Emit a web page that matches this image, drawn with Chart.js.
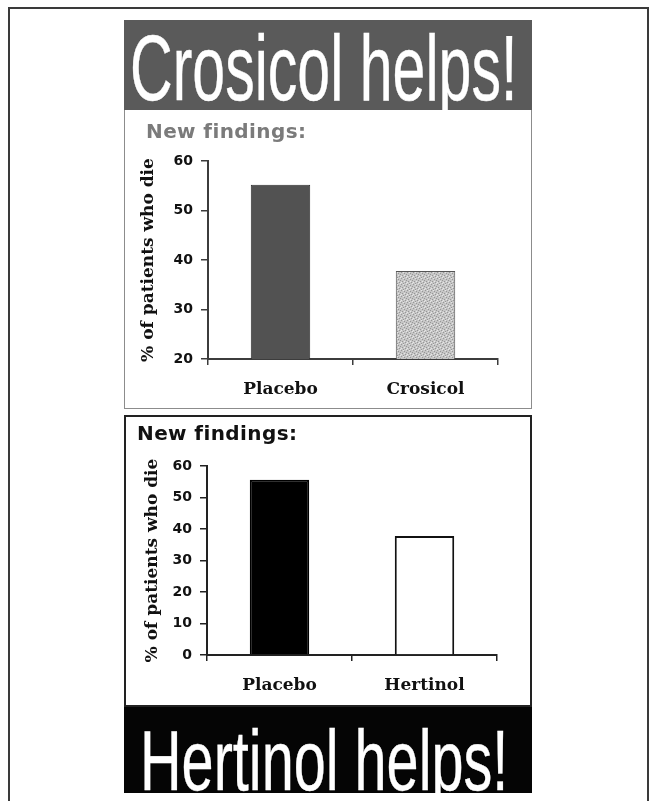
<!DOCTYPE html>
<html>
<head>
<meta charset="utf-8">
<script src="https://cdn.jsdelivr.net/npm/chart.js@4/dist/chart.umd.min.js"></script>
<style>
  html, body { margin: 0; padding: 0; background: #fff; }
  body { width: 649px; height: 801px; position: relative; overflow: hidden; }
  .abs { position: absolute; }
  #frame { left: 8px; top: 7px; width: 637px; height: 820px; border: 2px solid #3a3a3a; }
  #bannerTop { left: 124px; top: 20px; width: 408px; height: 90px; background: #5a5a5a; overflow: hidden; }
  #bannerBottom { left: 124px; top: 707px; width: 408px; height: 86px; background: #050505; overflow: hidden; }
  .headline { position: absolute; font-family: "Liberation Sans", Arial, sans-serif; color: #fff;
              line-height: 1; white-space: nowrap; transform-origin: 0 0;
              -webkit-text-stroke: 0.4px #fff; }
  #panelTop { left: 124px; top: 110px; width: 406px; height: 298px; border: 1px solid #8c8c8c; border-top: none; background: #fff; }
  #panelBottom { left: 124px; top: 415px; width: 404px; height: 288px; border: 2px solid #222; background: #fff; }
  .findings { position: absolute; font-family: "DejaVu Sans", Verdana, sans-serif; font-weight: bold;
              font-size: 20px; line-height: 1; white-space: nowrap; letter-spacing: 0.4px; }
  canvas { position: absolute; left: 0; top: 0; }
</style>
</head>
<body>
<div id="frame" class="abs"></div>

<div id="bannerTop" class="abs"><div class="headline" id="headTop">Crosicol helps!</div></div>
<div id="panelTop" class="abs"><canvas id="chartTop" width="406" height="298"></canvas></div>
<div class="findings" style="left:146px; top:121px; color:#7b7b7b;">New findings:</div>

<div id="panelBottom" class="abs"><canvas id="chartBottom" width="404" height="288"></canvas></div>
<div class="findings" style="left:137px; top:423px; color:#111;">New findings:</div>
<div id="bannerBottom" class="abs"><div class="headline" id="headBottom">Hertinol helps!</div></div>

<script>
// Categories and values for the two bar charts
const topCategories = ["Placebo", "Crosicol"];
const topValues = [55.2, 37.8];
const topTicks = [20, 30, 40, 50, 60];

const bottomCategories = ["Placebo", "Hertinol"];
const bottomValues = [55.6, 37.8];
const bottomTicks = [0, 10, 20, 30, 40, 50, 60];

const axisTitle = "% of patients who die";

// Headline sizing (horizontally condensed sans)
const headTop = document.getElementById("headTop");
headTop.style.fontSize = "92px";
headTop.style.left = "6px";
headTop.style.top = "2px";
headTop.style.transform = "scaleX(0.642)";
const headBottom = document.getElementById("headBottom");
headBottom.style.fontSize = "86px";
headBottom.style.left = "16px";
headBottom.style.top = "10px";
headBottom.style.transform = "scaleX(0.67)";

// Light stippled fill for the treatment bar
function stipple() {
  const c = document.createElement("canvas");
  c.width = 6; c.height = 6;
  const g = c.getContext("2d");
  g.fillStyle = "#c6c6c6";
  g.fillRect(0, 0, 6, 6);
  g.fillStyle = "#979797";
  const dots = [[0,0],[3,1],[1,3],[4,4],[5,2],[2,5]];
  dots.forEach(([x, y]) => g.fillRect(x, y, 1, 1));
  g.fillStyle = "#e6e6e6";
  [[2,0],[5,5],[0,4],[3,3]].forEach(([x, y]) => g.fillRect(x, y, 1, 1));
  return g.createPattern(c, "repeat");
}

const tickFont = { family: "DejaVu Sans", weight: "bold", size: 14 };
const serifFont = { family: "DejaVu Serif", weight: "bold", size: 17 };
const labelFont = { family: "DejaVu Serif", weight: "bold", size: 17 };

function makeChart(id, cats, vals, ticks, fills, borders, borderW, opts) {
  const lo = ticks[0], hi = ticks[ticks.length - 1];
  return new Chart(document.getElementById(id), {
    type: "bar",
    data: {
      labels: cats,
      datasets: [{
        data: vals,
        backgroundColor: fills,
        borderColor: borders,
        borderWidth: borderW,
        borderSkipped: "bottom",
        barPercentage: 0.41,
        categoryPercentage: 1.0
      }]
    },
    options: {
      responsive: false,
      animation: false,
      events: [],
      layout: { padding: opts.padding },
      plugins: { legend: { display: false }, tooltip: { enabled: false }, title: { display: false } },
      scales: {
        x: {
          type: "category",
          offset: true,
          grid: { offset: true, drawOnChartArea: false, drawTicks: true, tickLength: 6, color: opts.axisColor, lineWidth: 1.5 },
          border: { display: true, color: opts.axisColor, width: 2 },
          ticks: { color: "#111", font: labelFont, padding: opts.xPad, maxRotation: 0 },
          afterFit: s => { s.height = opts.xHeight; }
        },
        y: {
          type: "linear",
          min: lo, max: hi,
          afterBuildTicks: s => { s.ticks = ticks.map(v => ({ value: v })); },
          grid: { drawOnChartArea: false, drawTicks: true, tickLength: 7, color: opts.axisColor, lineWidth: 1.5 },
          border: { display: true, color: opts.axisColor, width: 2 },
          ticks: { color: "#111", font: tickFont, padding: 8 },
          title: { display: true, text: axisTitle, color: "#111", font: serifFont, padding: { top: opts.titlePad, bottom: 0 } },
          afterFit: s => { s.width = opts.yWidth; }
        }
      }
    }
  });
}

makeChart("chartTop", topCategories, topValues, topTicks,
  ["#525252", stipple()], ["#2e2e2e", "#555"], 1,
  { padding: { left: 13, top: 51, right: 33, bottom: 0 }, xHeight: 49, xPad: 14, yWidth: 70, titlePad: 0, axisColor: "#3c3c3c" });

makeChart("chartBottom", bottomCategories, bottomValues, bottomTicks,
  ["#000", "#fff"], ["#000", "#111"], 2,
  { padding: { left: 13, top: 49, right: 33, bottom: 0 }, xHeight: 50, xPad: 14, yWidth: 68, titlePad: 3, axisColor: "#222" });
</script>
</body>
</html>
